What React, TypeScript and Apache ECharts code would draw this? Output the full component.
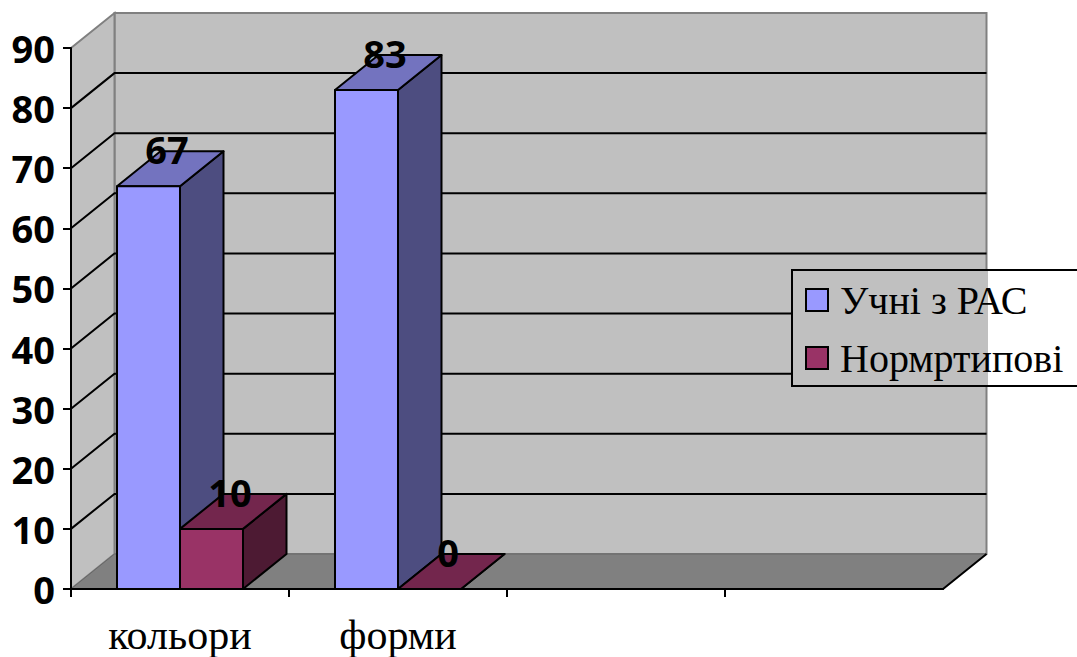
import React, { useEffect, useRef } from "react";
import * as echarts from "echarts";

const categories = ["кольори", "форми", "", ""];
const seriesNames = ["Учні з РАС", "Нормртипові"];
const autismValues = [67, 83];
const typicalValues = [10, 0];
const valueTicks = [10, 20, 30, 40, 50, 60, 70, 80];

const DEPTH_X = 43.5;
const DEPTH_Y = -35;
const BAR_RATIO = 0.289;
const TICK_LENGTH = 8;

const frontColors = ["#9999ff", "#993366"];
const topColors = ["#7373bf", "#73264d"];
const sideColors = ["#4d4d80", "#4d1a33"];

const SANS = "'Noto Sans', sans-serif";
const SERIF = "'Liberation Serif', serif";

// Back wall, side wall and floor of the 3D box.
const renderWalls = (params: any) => {
  const { x, y, width, height } = params.coordSys;
  const bottom = y + height;
  const right = x + width;
  const wallStyle = { fill: "#c0c0c0", stroke: "#808080", lineWidth: 2 };
  return {
    type: "group",
    children: [
      {
        type: "polygon",
        shape: { points: [[x + DEPTH_X, y + DEPTH_Y], [right + DEPTH_X, y + DEPTH_Y], [right + DEPTH_X, bottom + DEPTH_Y], [x + DEPTH_X, bottom + DEPTH_Y]] },
        style: wallStyle,
      },
      {
        type: "polygon",
        shape: { points: [[x, y], [x + DEPTH_X, y + DEPTH_Y], [x + DEPTH_X, bottom + DEPTH_Y], [x, bottom]] },
        style: wallStyle,
      },
      {
        type: "polygon",
        shape: { points: [[x, bottom], [x + DEPTH_X, bottom + DEPTH_Y], [right + DEPTH_X, bottom + DEPTH_Y], [right, bottom]] },
        style: { fill: "#808080", stroke: "#666666", lineWidth: 1 },
      },
      {
        type: "polyline",
        shape: { points: [[right + DEPTH_X, bottom + DEPTH_Y], [right, bottom], [x, bottom]] },
        style: { fill: "none", stroke: "#000", lineWidth: 2 },
      },
    ],
  };
};

// Gridline for one value: diagonal on the side wall, level on the back wall.
const renderGridLine = (params: any, api: any) => {
  const { x, width } = params.coordSys;
  const yPos = api.coord([0, api.value(1)])[1];
  return {
    type: "polyline",
    shape: { points: [[x, yPos], [x + DEPTH_X, yPos + DEPTH_Y], [x + width + DEPTH_X, yPos + DEPTH_Y]] },
    style: { fill: "none", stroke: "#000", lineWidth: 2 },
  };
};

// Tick at the left edge of a category band; the axis end carries no tick.
const renderCategoryTick = (_params: any, api: any) => {
  const [cx, yBase] = api.coord([api.value(0), 0]);
  const tickX = Math.round(cx - api.size([1, 0])[0] / 2);
  return {
    type: "line",
    shape: { x1: tickX, y1: yBase, x2: tickX, y2: yBase + TICK_LENGTH },
    style: { stroke: "#000", lineWidth: 2 },
  };
};

// One box of a clustered column: front, top and side faces plus its value label.
const makeBarRenderer = (seriesIndex: number) => (_params: any, api: any) => {
  const value = api.value(1);
  const [cx, yTop] = api.coord([api.value(0), value]);
  const yBase = api.coord([api.value(0), 0])[1];
  const barW = api.size([1, 0])[0] * BAR_RATIO;
  const x0 = seriesIndex === 0 ? cx - barW : cx;
  const x1 = x0 + barW;
  const edge = { stroke: "#000", lineWidth: 2, lineJoin: "round" };
  return {
    type: "group",
    children: [
      {
        type: "polygon",
        shape: { points: [[x1, yTop], [x1 + DEPTH_X, yTop + DEPTH_Y], [x1 + DEPTH_X, yBase + DEPTH_Y], [x1, yBase]] },
        style: { fill: sideColors[seriesIndex], ...edge },
      },
      {
        type: "polygon",
        shape: { points: [[x0, yTop], [x0 + DEPTH_X, yTop + DEPTH_Y], [x1 + DEPTH_X, yTop + DEPTH_Y], [x1, yTop]] },
        style: { fill: topColors[seriesIndex], ...edge },
      },
      {
        type: "polygon",
        shape: { points: [[x0, yTop], [x1, yTop], [x1, yBase], [x0, yBase]] },
        style: { fill: frontColors[seriesIndex], ...edge },
      },
      {
        type: "text",
        style: {
          x: x0 + 50,
          y: yTop + DEPTH_Y - 2,
          text: String(value),
          fill: "#000",
          font: `bold 38px ${SANS}`,
          textAlign: "center",
          textVerticalAlign: "middle",
        },
      },
    ],
  };
};

export default function App() {
  const ref = useRef<HTMLDivElement>(null);

  useEffect(() => {
    document.body.style.margin = "0";
    const chart = echarts.init(ref.current!, null, { renderer: "svg" });
    chart.setOption({
      animation: false,
      backgroundColor: "#ffffff",
      grid: { left: 71, right: 134, top: 48, bottom: 68 },
      legend: {
        left: 792,
        top: 270,
        orient: "vertical",
        data: seriesNames,
        icon: "rect",
        itemWidth: 22,
        itemHeight: 22,
        itemGap: 18,
        padding: [10, 40, 8, 13],
        borderColor: "#000",
        borderWidth: 2,
        backgroundColor: {
          type: "linear",
          x: 0,
          y: 0,
          x2: 1,
          y2: 0,
          colorStops: [
            { offset: 0, color: "#c0c0c0" },
            { offset: 0.631, color: "#c0c0c0" },
            { offset: 0.631, color: "#ffffff" },
            { offset: 1, color: "#ffffff" },
          ],
        },
        itemStyle: { borderColor: "#000", borderWidth: 2 },
        selectedMode: false,
        textStyle: { fontFamily: SERIF, fontSize: 40, color: "#000", padding: [0, 0, 0, 7] },
      },
      xAxis: {
        type: "category",
        data: categories,
        z: 2,
        axisLine: { lineStyle: { color: "#000", width: 2 } },
        axisTick: { show: false },
        axisLabel: { fontFamily: SERIF, fontSize: 42, lineHeight: 34, color: "#000", margin: 29, interval: 0 },
      },
      yAxis: {
        type: "value",
        min: 0,
        max: 90,
        interval: 10,
        z: 2,
        splitLine: { show: false },
        axisLine: { show: true, lineStyle: { color: "#000", width: 2 } },
        axisTick: { show: true, length: TICK_LENGTH, lineStyle: { color: "#000", width: 2 } },
        axisLabel: { fontFamily: SANS, fontWeight: "bold", fontSize: 38, color: "#000", margin: 16 },
      },
      series: [
        { type: "custom", z: 1, silent: true, renderItem: renderWalls, data: [[0, 0]], clip: false },
        { type: "custom", z: 1, silent: true, renderItem: renderGridLine, data: valueTicks.map((v) => [0, v]), clip: false },
        { type: "custom", z: 2, silent: true, renderItem: renderCategoryTick, data: categories.map((_, i) => [i, 0]), clip: false },
        {
          type: "custom",
          name: seriesNames[0],
          z: 3,
          silent: true,
          itemStyle: { color: frontColors[0] },
          renderItem: makeBarRenderer(0),
          data: autismValues.map((v, i) => [i, v]),
          clip: false,
        },
        {
          type: "custom",
          name: seriesNames[1],
          z: 3,
          silent: true,
          itemStyle: { color: frontColors[1] },
          renderItem: makeBarRenderer(1),
          data: typicalValues.map((v, i) => [i, v]),
          clip: false,
        },
      ],
    });
    return () => chart.dispose();
  }, []);

  return <div ref={ref} style={{ width: 1077, height: 657 }} />;
}
